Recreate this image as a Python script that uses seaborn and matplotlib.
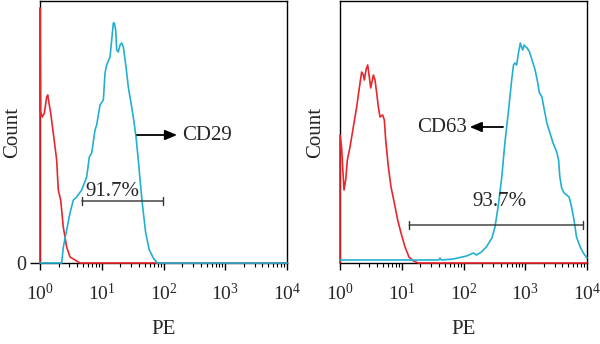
import numpy as np
import pandas as pd
import matplotlib
matplotlib.use("Agg")
import matplotlib.pyplot as plt
import seaborn as sns
from matplotlib.ticker import LogLocator, NullFormatter, FixedLocator

sns.set_theme(style="white")
plt.rcParams['font.family'] = ['Liberation Serif', 'DejaVu Serif']
plt.rcParams['mathtext.fontset'] = 'custom'
plt.rcParams['mathtext.rm'] = 'Liberation Serif'
plt.rcParams['mathtext.it'] = 'Liberation Serif:italic'
plt.rcParams['mathtext.default'] = 'regular'

# ---- data (PE as log10 exponent, count in arbitrary units) ----
cd29_ctrl_log = [0, 0, 0.01, 0.037, 0.070, 0.108, 0.125, 0.146, 0.173, 0.215, 0.270,
                 0.296, 0.335, 0.377, 0.432, 0.486, 0.567, 0.648, 4.0]
cd29_ctrl_cnt = [0, 255, 151, 146, 150, 166, 168, 160, 150, 130, 103,
                 73, 63, 36, 16, 6, 3, 0, 0]

cd29_log = [0, 0.324, 0.351, 0.378, 0.432, 0.486, 0.540, 0.594, 0.675, 0.756, 0.799,
            0.837, 0.891, 0.918, 0.972, 1.026, 1.053, 1.080, 1.134, 1.172, 1.188,
            1.204, 1.226, 1.242, 1.268, 1.296, 1.323, 1.350, 1.393, 1.430, 1.474,
            1.511, 1.555, 1.592, 1.631, 1.663, 1.712, 1.770, 1.835, 1.900, 4.0]
cd29_cnt = [0, 0, 0, 16, 33, 50, 63, 66, 73, 86, 106,
            110, 133, 138, 158, 163, 190, 198, 206, 230, 240,
            240, 233, 213, 211, 218, 220, 216, 196, 176, 160,
            146, 126, 103, 76, 56, 30, 13, 5, 0, 0]

cd63_ctrl_log = [0, 0, 0.027, 0.043, 0.065, 0.092, 0.119, 0.162, 0.216, 0.270, 0.324,
                 0.351, 0.378, 0.394, 0.421, 0.448, 0.475, 0.497, 0.524, 0.540, 0.567,
                 0.594, 0.621, 0.648, 0.691, 0.718, 0.740, 0.783, 0.826, 0.880, 0.934,
                 0.988, 1.053, 1.117, 1.188, 1.269, 4.0]
cd63_ctrl_cnt = [0, 128, 115, 96, 73, 83, 103, 116, 136, 156, 180,
                 191, 188, 183, 193, 198, 186, 175, 183, 188, 183,
                 170, 156, 146, 148, 143, 123, 96, 76, 60, 43,
                 30, 16, 6, 2, 0, 0]

cd63_log = [0, 1.134, 1.60, 1.62, 1.64, 1.835, 2.05, 2.16, 2.21, 2.29, 2.37, 2.46,
            2.51, 2.56, 2.62, 2.67, 2.73, 2.78, 2.81, 2.83, 2.86, 2.89,
            2.92, 2.94, 2.96, 2.98, 3.01, 3.03, 3.07, 3.10, 3.16, 3.20,
            3.23, 3.27, 3.30, 3.35, 3.40, 3.45, 3.51, 3.54, 3.56, 3.59,
            3.63, 3.67, 3.71, 3.75, 3.79, 3.83, 3.89, 3.94, 4.0]
cd63_cnt = [3, 3, 3, 5, 3, 4, 7, 10, 8, 11, 16, 25,
            36, 56, 86, 120, 153, 183, 198, 200, 198, 210,
            220, 216, 213, 218, 216, 215, 211, 205, 193, 181,
            170, 166, 156, 140, 130, 120, 111, 103, 86, 75,
            70, 68, 66, 56, 43, 26, 16, 10, 5]

tick_exps = [0, 1, 2, 3, 4]
RED = '#e8262c'
CYAN = '#22b0d0'

fig = plt.figure(figsize=(6.0, 3.44), dpi=100)
axL = fig.add_axes([40/600, 81/344, 247/600, 262/344])
axR = fig.add_axes([340/600, 81/344, 247/600, 262/344])


def draw(ax, ctrl_log, ctrl_cnt, pos_log, pos_cnt, show_zero):
    sns.lineplot(x=10 ** np.array(ctrl_log, dtype=float), y=ctrl_cnt, ax=ax,
                 estimator=None, sort=False, color=RED, lw=1.2, zorder=3, clip_on=False)
    sns.lineplot(x=10 ** np.array(pos_log, dtype=float), y=pos_cnt, ax=ax,
                 estimator=None, sort=False, color=CYAN, lw=1.2, zorder=3, clip_on=False)
    ax.set_xscale('log')
    ax.set_xlim(1, 1e4)
    ax.set_ylim(0, 262)
    ax.xaxis.set_major_locator(FixedLocator([10 ** e for e in tick_exps]))
    ax.xaxis.set_minor_locator(LogLocator(base=10, subs=np.arange(2, 10)))
    ax.xaxis.set_minor_formatter(NullFormatter())
    ax.set_xticklabels([f'$10^{{{e}}}$' for e in tick_exps], fontsize=14)
    ax.tick_params(axis='x', which='major', direction='out', length=5, width=1,
                   color='black', pad=9, bottom=True)
    ax.tick_params(axis='x', which='minor', direction='out', length=3, width=0.8,
                   color='black', bottom=True)
    if show_zero:
        ax.set_yticks([0])
        ax.set_yticklabels(['0'], fontsize=14.5)
        ax.tick_params(axis='y', direction='out', length=7, width=1, color='black',
                       left=True, pad=3)
    else:
        ax.set_yticks([])
    for s in ax.spines.values():
        s.set_color('black')
        s.set_linewidth(1.0)
    ax.set_xlabel('PE', fontsize=15, labelpad=12)
    ax.set_ylabel('Count', fontsize=15)
    ax.yaxis.set_label_coords(-0.073 if show_zero else -0.061, 0.5)
    ax.grid(False)


draw(axL, cd29_ctrl_log, cd29_ctrl_cnt, cd29_log, cd29_cnt, True)
draw(axR, cd63_ctrl_log, cd63_ctrl_cnt, cd63_log, cd63_cnt, False)

# gate bars
bar = dict(arrowstyle='|-|, widthA=0.25, widthB=0.25', color='#333333', lw=1.0,
           shrinkA=0, shrinkB=0)
axL.annotate('', xy=(10 ** 0.68, 62), xytext=(10 ** 1.99, 62), arrowprops=bar)
axL.text(10 ** 1.166, 72, '91.7%', ha='center', va='center', fontsize=15)
axR.annotate('', xy=(10 ** 1.12, 38), xytext=(10 ** 3.93, 38), arrowprops=bar)
axR.text(10 ** 2.59, 61, '93.7%', ha='center', va='center', fontsize=15)

# marker arrows
arr = dict(arrowstyle='-|>, head_length=0.6, head_width=0.25', color='black', lw=1.3,
           shrinkA=0, shrinkB=0)
axL.annotate('', xy=(10 ** 2.22, 128), xytext=(10 ** 1.57, 128), arrowprops=arr)
axL.text(10 ** 2.30, 128, 'CD29', ha='left', va='center', fontsize=15)
axR.annotate('', xy=(10 ** 2.10, 136), xytext=(10 ** 2.64, 136), arrowprops=arr)
axR.text(10 ** 2.06, 136, 'CD63', ha='right', va='center', fontsize=15)

fig.savefig('out.png', dpi=100)
